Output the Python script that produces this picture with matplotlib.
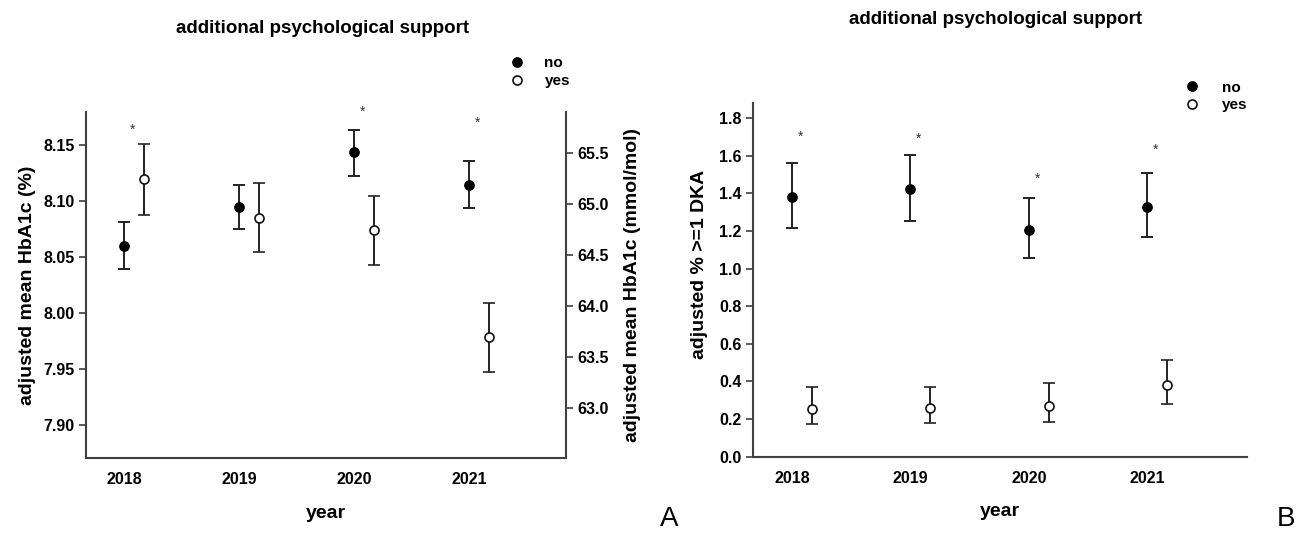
import matplotlib
matplotlib.use("Agg")
import matplotlib.pyplot as plt
import numpy as np

plt.rcParams['font.family'] = ['Liberation Sans', 'DejaVu Sans']
plt.rcParams['font.weight'] = 'bold'

years = [2018, 2019, 2020, 2021]

# panel A: adjusted mean HbA1c (%)
hba_no = [8.060, 8.095, 8.144, 8.115]
hba_no_lo = [8.039, 8.0755, 8.123, 8.094]
hba_no_hi = [8.081, 8.115, 8.164, 8.136]
hba_yes = [8.120, 8.085, 8.074, 7.978]
hba_yes_lo = [8.088, 8.055, 8.043, 7.947]
hba_yes_hi = [8.151, 8.116, 8.105, 8.009]
star_years_a = [2018, 2020, 2021]
star_y_a = [8.164, 8.180, 8.170]

# panel B: adjusted % >=1 DKA
dka_no = [1.380, 1.424, 1.207, 1.330]
dka_no_lo = [1.215, 1.256, 1.055, 1.170]
dka_no_hi = [1.560, 1.607, 1.376, 1.508]
dka_yes = [0.255, 0.260, 0.271, 0.379]
dka_yes_lo = [0.173, 0.180, 0.184, 0.278]
dka_yes_hi = [0.368, 0.368, 0.393, 0.514]
star_years_b = [2018, 2019, 2020, 2021]
star_y_b = [1.700, 1.689, 1.480, 1.630]

title = 'additional psychological support'
ecol = '#222222'
scol = '#404040'
off = 0.17


def pct_to_mmol(v):
    return 10.929 * (np.asarray(v) - 2.15)


def mmol_to_pct(v):
    return np.asarray(v) / 10.929 + 2.15


def draw(ax, m_no, lo_no, hi_no, m_yes, lo_yes, hi_yes, sx, sy):
    x = np.array(years, dtype=float)
    m_no, m_yes = np.array(m_no), np.array(m_yes)
    e_no = [m_no - np.array(lo_no), np.array(hi_no) - m_no]
    e_yes = [m_yes - np.array(lo_yes), np.array(hi_yes) - m_yes]
    h1 = ax.errorbar(x, m_no, yerr=e_no, fmt='o', color=ecol, ecolor=ecol,
                     mfc='black', mec='black', ms=6.7, elinewidth=1.4,
                     capsize=4.5, capthick=1.4, zorder=3)
    h2 = ax.errorbar(x + off, m_yes, yerr=e_yes, fmt='o', color=ecol, ecolor=ecol,
                     mfc='white', mec='#111111', mew=1.2, ms=6.5, elinewidth=1.4,
                     capsize=4.5, capthick=1.4, zorder=3)
    for xx, yy in zip(sx, sy):
        ax.text(xx + 0.07, yy, '*', fontsize=10, fontweight='normal',
                color='#333333', ha='center', va='center')
    ax.set_xlim(2017.67, 2021.84)
    ax.set_xticks(years)
    ax.tick_params(axis='x', length=0, pad=10, labelsize=11.5)
    ax.tick_params(axis='y', length=5, width=1.2, color=scol, labelsize=11.5, pad=3)
    ax.spines['top'].set_visible(False)
    ax.spines['right'].set_visible(False)
    for s in ['left', 'bottom']:
        ax.spines[s].set_color(scol)
        ax.spines[s].set_linewidth(1.5)
    ax.set_xlabel('year', fontsize=14, fontweight='bold')
    return h1, h2


fig = plt.figure(figsize=(12.96, 5.34), dpi=100)
axA = fig.add_axes([0.0664, 0.1423, 0.3704, 0.648])
axB = fig.add_axes([0.5808, 0.1448, 0.3812, 0.6629])

hA = draw(axA, hba_no, hba_no_lo, hba_no_hi, hba_yes, hba_yes_lo, hba_yes_hi,
          star_years_a, star_y_a)
axA.set_ylim(7.87, 8.18)
axA.set_yticks([7.90, 7.95, 8.00, 8.05, 8.10, 8.15])
axA.yaxis.set_major_formatter(matplotlib.ticker.FormatStrFormatter('%.2f'))
axA.set_ylabel('adjusted mean HbA1c (%)', fontsize=14, fontweight='bold')
axA.yaxis.set_label_coords(-0.104, 0.5)
axA.xaxis.set_label_coords(0.5, -0.135)

sec = axA.secondary_yaxis('right', functions=(pct_to_mmol, mmol_to_pct))
sec.set_yticks([63.0, 63.5, 64.0, 64.5, 65.0, 65.5])
sec.yaxis.set_major_formatter(matplotlib.ticker.FormatStrFormatter('%.1f'))
sec.tick_params(axis='y', length=5, width=1.2, color=scol, labelsize=11.5, pad=3)
sec.spines['right'].set_color(scol)
sec.spines['right'].set_linewidth(1.5)
sec.set_ylabel('adjusted mean HbA1c (mmol/mol)', fontsize=14, fontweight='bold')
sec.yaxis.set_label_coords(1.121, 0.5, transform=axA.transAxes)

hB = draw(axB, dka_no, dka_no_lo, dka_no_hi, dka_yes, dka_yes_lo, dka_yes_hi,
          star_years_b, star_y_b)
axB.set_ylim(0, 1.883)
axB.set_yticks(np.arange(0, 1.81, 0.2))
axB.yaxis.set_major_formatter(matplotlib.ticker.FormatStrFormatter('%.1f'))
axB.set_ylabel('adjusted % >=1 DKA', fontsize=14, fontweight='bold')
axB.yaxis.set_label_coords(-0.090, 0.544)
axB.xaxis.set_label_coords(0.5, -0.13)

for hs, anchor, pad in [(hA, (0.393, 0.895), 1.3), (hB, (0.914, 0.849), 1.44)]:
    fig.legend([hs[0][0], hs[1][0]], ['no', 'yes'], loc='upper left',
               bbox_to_anchor=anchor, frameon=False,
               handlelength=1.0, handletextpad=pad, borderpad=0,
               borderaxespad=0, labelspacing=0.25, prop={'weight': 'bold', 'size': 11})

fig.text(0.249, 0.946, title, ha='center', va='center', fontsize=13.5, fontweight='bold')
fig.text(0.768, 0.964, title, ha='center', va='center', fontsize=13.5, fontweight='bold')
fig.text(660 / 1296, 0.003, 'A', ha='left', va='bottom', fontsize=20, fontweight='normal')
fig.text(1295 / 1296, 0.003, 'B', ha='right', va='bottom', fontsize=20, fontweight='normal')

fig.savefig('out.png', dpi=100)
